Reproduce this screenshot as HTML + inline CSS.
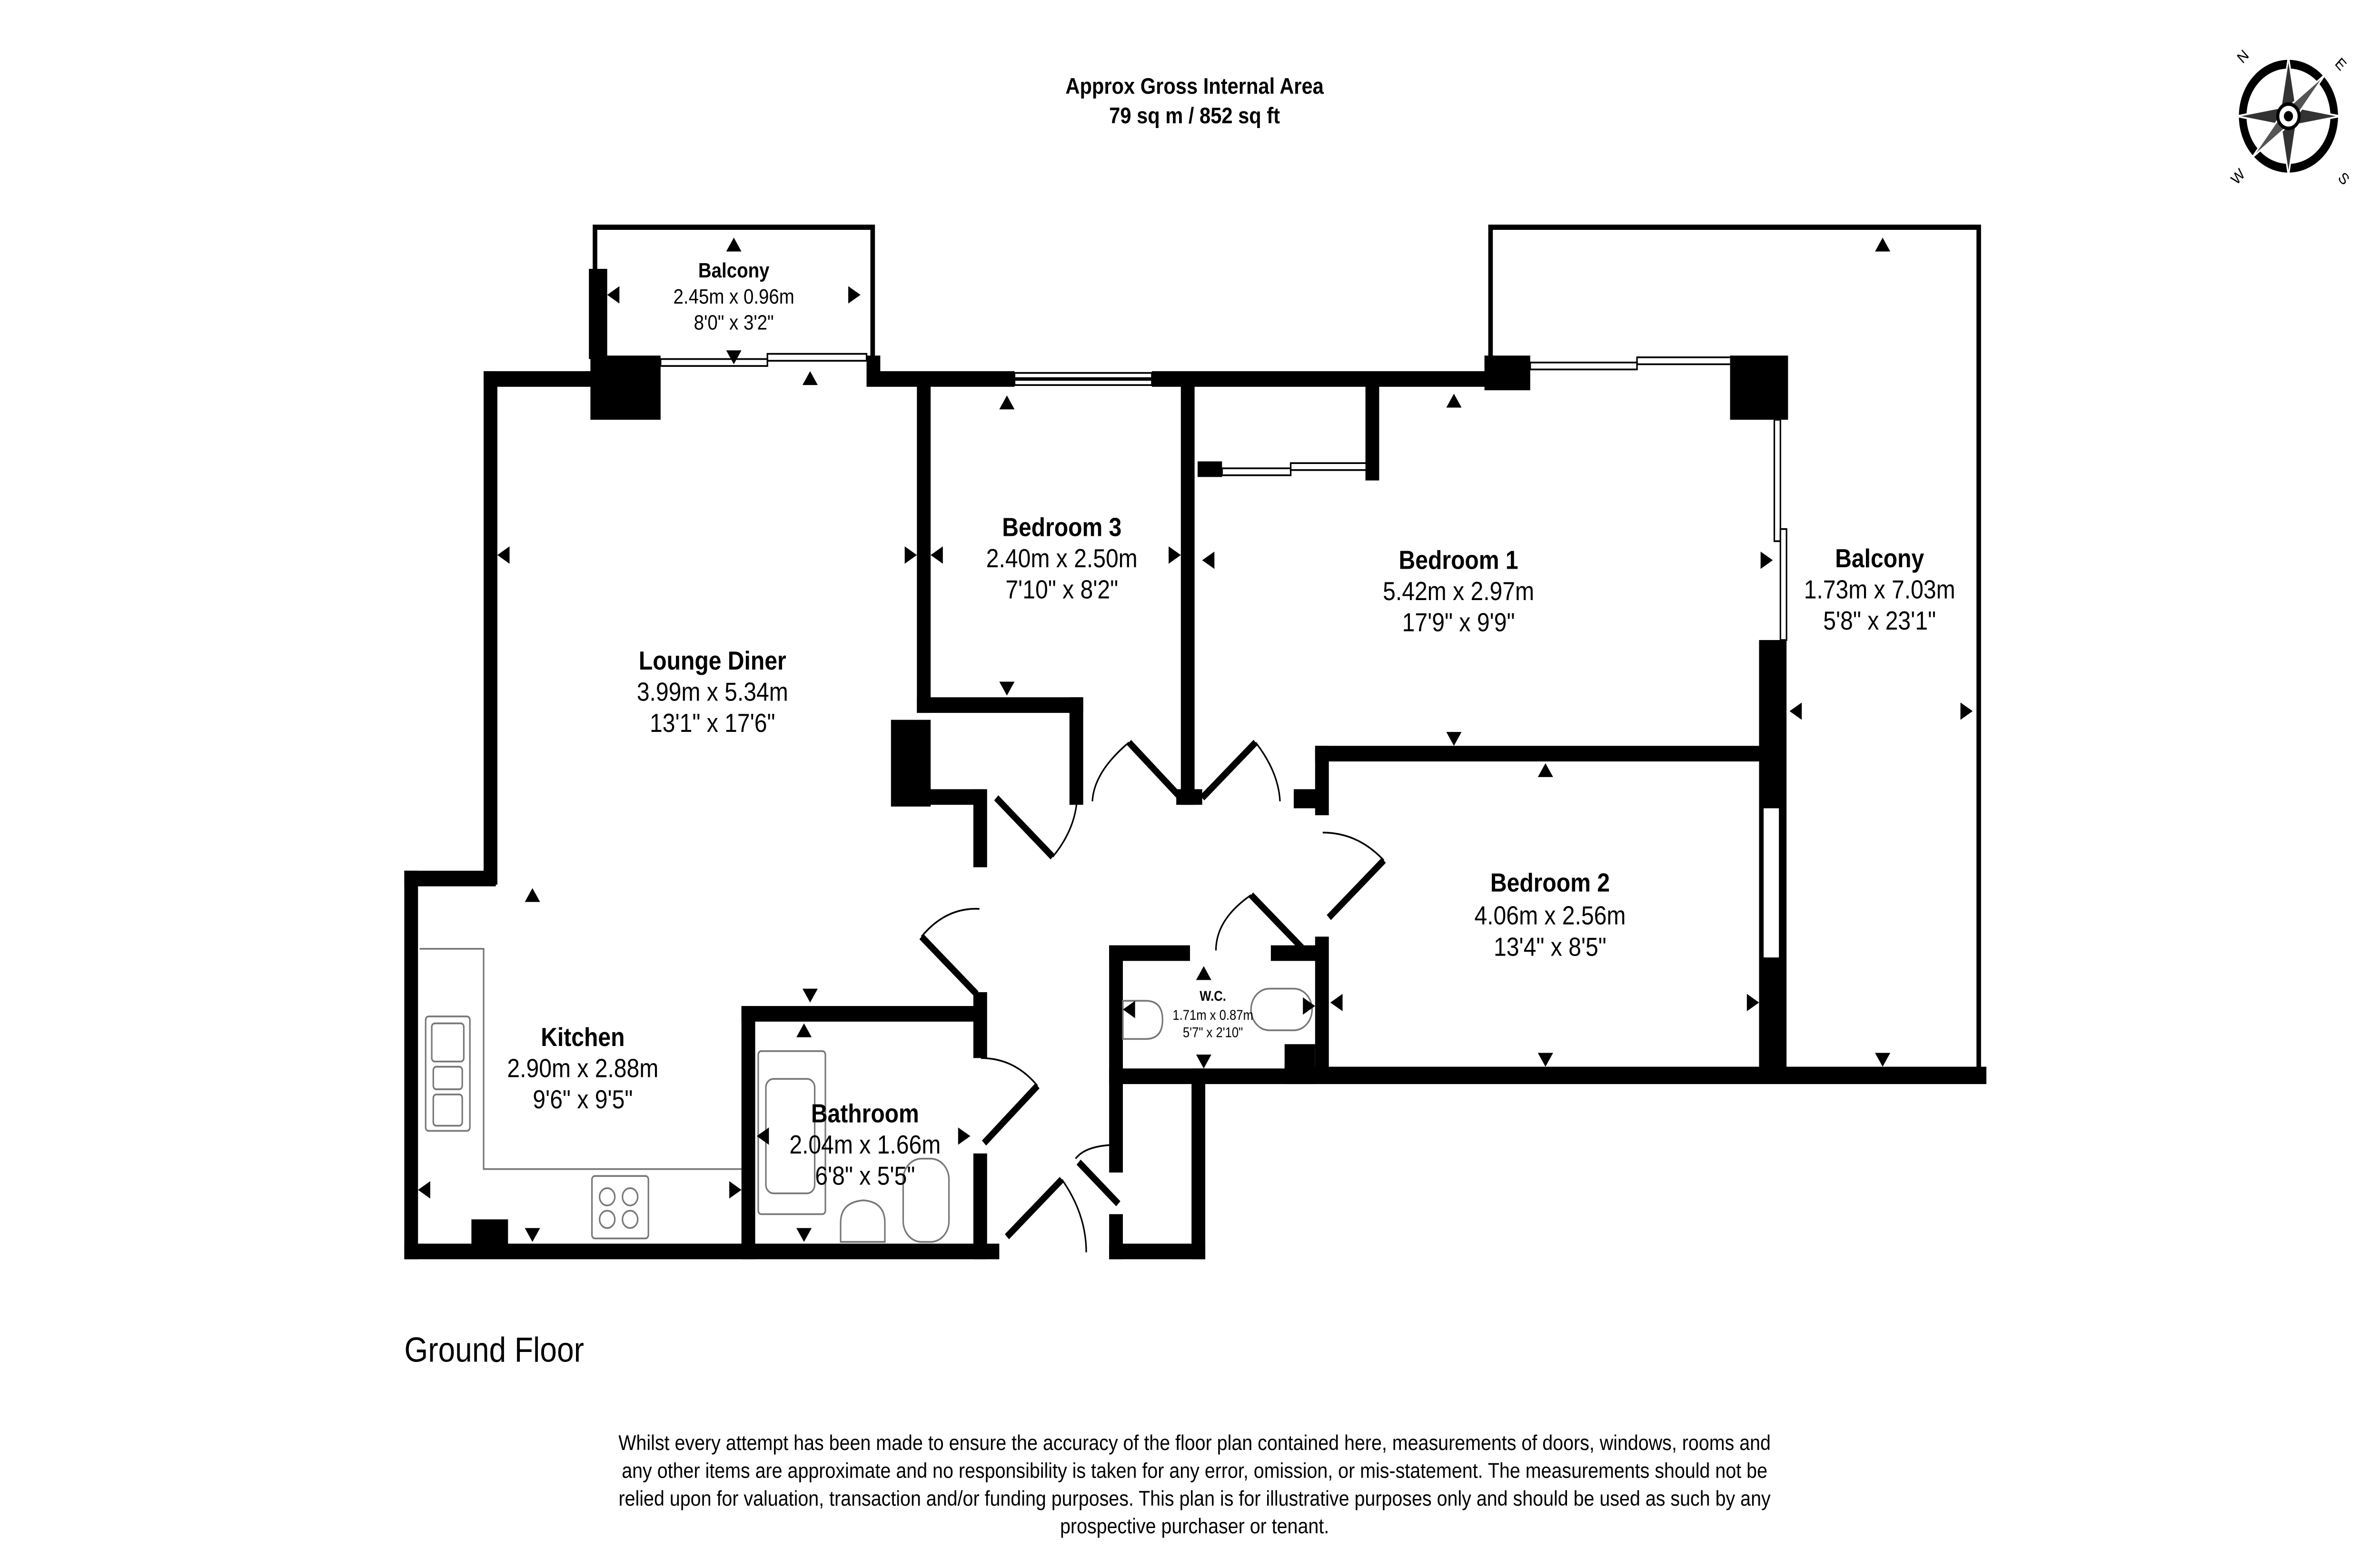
<!DOCTYPE html>
<html><head><meta charset="utf-8"><style>
html,body{margin:0;padding:0;background:#fff;overflow:hidden;width:100%;height:100%}
svg{display:block;position:fixed;left:0;top:0;width:100vw;height:100vh}
text{font-family:"Liberation Sans",sans-serif;fill:#000}
.n{font-family:"Liberation Sans Narrow","Liberation Sans",sans-serif}
</style></head><body>
<svg viewBox="0 0 1560 904" preserveAspectRatio="none" xmlns="http://www.w3.org/2000/svg">
<rect width="1560" height="904" fill="#fff"/>
<text x="783" y="54" font-size="13" font-weight="bold" text-anchor="middle">Approx Gross Internal Area</text>
<text x="783" y="71" font-size="13" font-weight="bold" text-anchor="middle">79 sq m / 852 sq ft</text>

<g transform="translate(1500,67)">
<circle r="30" fill="none" stroke="#000" stroke-width="5"/>
<polygon points="0,-34 5,-5 34,0 5,5 0,34 -5,5 -34,0 -5,-5" fill="#333" stroke="#fff" stroke-width="1"/>
<polygon points="-24,-24 3,-3 24,24 -3,3" fill="#555" stroke="#fff" stroke-width="1" transform="rotate(90)"/>
<circle r="7" fill="#fff" stroke="#000" stroke-width="2"/>
<circle r="3" fill="#000"/>
<text x="-30" y="-30" font-size="9" transform="rotate(-45 -30 -30)">N</text>
<text x="30" y="-30" font-size="9" transform="rotate(45 30 -30)">E</text>
<text x="-34" y="40" font-size="9" transform="rotate(-45 -34 40)">W</text>
<text x="32" y="36" font-size="9" transform="rotate(45 32 36)">S</text>
</g>

<g fill="none" stroke="#000" stroke-linecap="square">
<polyline points="390,205 390,131 572,131 572,205" stroke-width="3"/>
<polyline points="977,205 977,131 1297,131 1297,617" stroke-width="3"/>
</g>

<g fill="#000">
<rect x="317" y="214" width="9" height="296"/>
<rect x="317" y="214" width="72" height="9"/>
<rect x="387" y="205" width="46" height="37"/>
<rect x="386" y="155" width="12" height="52"/>
<rect x="265" y="502" width="60" height="9"/>
<rect x="265" y="502" width="9" height="224"/>
<rect x="265" y="717" width="390" height="9"/>
<rect x="309" y="703" width="24" height="16"/>
<rect x="568" y="205" width="9" height="17"/>
<rect x="568" y="214" width="97" height="9"/>
<rect x="755" y="214" width="222" height="9"/>
<rect x="973" y="205" width="30" height="20"/>
<rect x="1134" y="205" width="38" height="37"/>
<rect x="601" y="219" width="9" height="192"/>
<rect x="601" y="402" width="109" height="9"/>
<rect x="701" y="402" width="9" height="62"/>
<rect x="584" y="415" width="26" height="50"/>
<rect x="606" y="455" width="40" height="9"/>
<rect x="638" y="455" width="9" height="45"/>
<rect x="774" y="219" width="9" height="245"/>
<rect x="771" y="455" width="17" height="9"/>
<rect x="895" y="219" width="9" height="58"/>
<rect x="785" y="266" width="16" height="9"/>
<rect x="862" y="430" width="300" height="9"/>
<rect x="862" y="430" width="9" height="40"/>
<rect x="848" y="455" width="22" height="11"/>
<rect x="862" y="540" width="9" height="80"/>
<rect x="1153" y="369" width="18" height="252"/>
<rect x="1155" y="465" width="12" height="88" fill="#fff" stroke="#000" stroke-width="2"/>
<rect x="842" y="615" width="460" height="10"/>
<rect x="842" y="602" width="20" height="22"/>
<rect x="727" y="545" width="9" height="80"/>
<rect x="727" y="545" width="53" height="9"/>
<rect x="833" y="545" width="36" height="9"/>
<rect x="727" y="616" width="135" height="9"/>
<rect x="727" y="616" width="9" height="60"/>
<rect x="781" y="616" width="9" height="110"/>
<rect x="727" y="700" width="9" height="26"/>
<rect x="727" y="717" width="63" height="9"/>
<rect x="638" y="572" width="9" height="38"/>
<rect x="486" y="580" width="160" height="9"/>
<rect x="486" y="580" width="9" height="146"/>
<rect x="638" y="665" width="9" height="61"/>
</g>

<g fill="none" stroke="#000" stroke-width="1">
<rect x="433" y="207" width="70" height="4"/><rect x="503" y="204" width="65" height="4"/>
<rect x="665" y="215" width="90" height="3"/><rect x="665" y="219" width="90" height="3"/>
<rect x="1003" y="209" width="70" height="4"/><rect x="1073" y="206" width="62" height="4"/>
<rect x="1163" y="242" width="4" height="70"/><rect x="1167" y="305" width="4" height="64"/>
<rect x="801" y="270" width="45" height="4"/><rect x="846" y="267" width="50" height="4"/>
</g>

<g stroke="#000" fill="none">
<line x1="653" y1="460" x2="690" y2="494" stroke-width="4"/>
<path d="M690,494 Q705,478 706,460" stroke-width="1"/>
<line x1="774" y1="460" x2="740" y2="428" stroke-width="4"/>
<path d="M740,428 Q717,445 716,462" stroke-width="1"/>
<line x1="788" y1="460" x2="823" y2="428" stroke-width="4"/>
<path d="M823,428 Q838,445 839,462" stroke-width="1"/>
<line x1="907" y1="496" x2="871" y2="529" stroke-width="4"/>
<path d="M907,496 Q890,480 867,480" stroke-width="1"/>
<line x1="640" y1="573" x2="604" y2="540" stroke-width="4"/>
<path d="M604,540 Q620,523 642,524" stroke-width="1"/>
<line x1="680" y1="626" x2="645" y2="659" stroke-width="4"/>
<path d="M680,626 Q665,610 643,610" stroke-width="1"/>
<line x1="854" y1="547" x2="820" y2="516" stroke-width="4"/>
<path d="M820,516 Q797,530 797,548" stroke-width="1"/>
<line x1="696" y1="680" x2="660" y2="713" stroke-width="4"/>
<path d="M696,680 Q712,700 712,722" stroke-width="1"/>
<line x1="707" y1="670" x2="733" y2="694" stroke-width="4"/>
<path d="M705,668 Q712,660 733,660" stroke-width="1"/>
</g>

<g fill="none" stroke="#777" stroke-width="1">
<polyline points="275,547 317,547 317,674 486,674"/>
<rect x="279" y="586" width="29" height="66" rx="2"/>
<rect x="283" y="590" width="21" height="22" rx="2"/>
<rect x="284" y="615" width="19" height="13" rx="2"/>
<rect x="284" y="631" width="19" height="18" rx="2"/>
<rect x="388" y="678" width="37" height="36" rx="2"/>
<circle cx="398" cy="690" r="5"/><circle cx="413" cy="690" r="5"/>
<circle cx="398" cy="703" r="5"/><circle cx="413" cy="703" r="5"/>
<rect x="497" y="606" width="44" height="94" rx="2"/>
<rect x="502" y="622" width="32" height="66" rx="5"/>
<path d="M551,716 L551,705 Q551,693 566,692 Q580,693 580,705 L580,716 Z"/>
<rect x="592" y="668" width="30" height="48" rx="12"/>
<path d="M736,577 L751,577 Q762,577 762,588 Q762,599 751,599 L736,599 Z"/>
<rect x="820" y="570" width="40" height="24" rx="12"/>
</g>

<g fill="#000">
<path d="M481,137 l-5,8 h10z"/><path d="M481,210 l-5,-8 h10z"/>
<path d="M398,170 l8,-5 v10z"/><path d="M564,170 l-8,-5 v10z"/>
<path d="M531,214 l-5,8 h10z"/>
<path d="M326,320 l8,-5 v10z"/><path d="M601,320 l-8,-5 v10z"/>
<path d="M349,512 l-5,8 h10z"/>
<path d="M610,320 l8,-5 v10z"/><path d="M774,320 l-8,-5 v10z"/>
<path d="M660,228 l-5,8 h10z"/><path d="M660,401 l-5,-8 h10z"/>
<path d="M788,323 l8,-5 v10z"/><path d="M1162,323 l-8,-5 v10z"/>
<path d="M953,227 l-5,8 h10z"/><path d="M953,430 l-5,-8 h10z"/>
<path d="M1234,137 l-5,8 h10z"/><path d="M1234,615 l-5,-8 h10z"/>
<path d="M1173,410 l8,-5 v10z"/><path d="M1293,410 l-8,-5 v10z"/>
<path d="M1013,440 l-5,8 h10z"/><path d="M1013,615 l-5,-8 h10z"/>
<path d="M872,578 l8,-5 v10z"/><path d="M1153,578 l-8,-5 v10z"/>
<path d="M789,557 l-5,8 h10z"/><path d="M789,616 l-5,-8 h10z"/>
<path d="M736,582 l8,-5 v10z"/><path d="M862,580 l-8,-5 v10z"/>
<path d="M274,686 l8,-5 v10z"/><path d="M486,686 l-8,-5 v10z"/>
<path d="M349,716 l-5,-8 h10z"/><path d="M531,578 l-5,-8 h10z"/>
<path d="M527,590 l-5,8 h10z"/><path d="M527,716 l-5,-8 h10z"/>
<path d="M496,655 l8,-5 v10z"/><path d="M636,655 l-8,-5 v10z"/>
</g>

<g text-anchor="middle" class="n">
<text x="481" y="160" font-size="12" font-weight="bold">Balcony</text>
<text x="481" y="175" font-size="12">2.45m x 0.96m</text>
<text x="481" y="190" font-size="12">8'0" x 3'2"</text>
<text x="467" y="386" font-size="15" font-weight="bold">Lounge Diner</text>
<text x="467" y="404" font-size="15">3.99m x 5.34m</text>
<text x="467" y="422" font-size="15">13'1" x 17'6"</text>
<text x="696" y="309" font-size="15" font-weight="bold">Bedroom 3</text>
<text x="696" y="327" font-size="15">2.40m x 2.50m</text>
<text x="696" y="345" font-size="15">7'10" x 8'2"</text>
<text x="956" y="328" font-size="15" font-weight="bold">Bedroom 1</text>
<text x="956" y="346" font-size="15">5.42m x 2.97m</text>
<text x="956" y="364" font-size="15">17'9" x 9'9"</text>
<text x="1232" y="327" font-size="15" font-weight="bold">Balcony</text>
<text x="1232" y="345" font-size="15">1.73m x 7.03m</text>
<text x="1232" y="363" font-size="15">5'8" x 23'1"</text>
<text x="1016" y="514" font-size="15" font-weight="bold">Bedroom 2</text>
<text x="1016" y="533" font-size="15">4.06m x 2.56m</text>
<text x="1016" y="551" font-size="15">13'4" x 8'5"</text>
<text x="382" y="603" font-size="15" font-weight="bold">Kitchen</text>
<text x="382" y="621" font-size="15">2.90m x 2.88m</text>
<text x="382" y="639" font-size="15">9'6" x 9'5"</text>
<text x="567" y="647" font-size="15" font-weight="bold">Bathroom</text>
<text x="567" y="665" font-size="15">2.04m x 1.66m</text>
<text x="567" y="683" font-size="15">6'8" x 5'5"</text>
<text x="795" y="577" font-size="8" font-weight="bold">W.C.</text>
<text x="795" y="588" font-size="8">1.71m x 0.87m</text>
<text x="795" y="598" font-size="8">5'7" x 2'10"</text>
</g>

<text x="265" y="785" font-size="20">Ground Floor</text>
<g text-anchor="middle" font-size="12.3">
<text x="783" y="836">Whilst every attempt has been made to ensure the accuracy of the floor plan contained here, measurements of doors, windows, rooms and</text>
<text x="783" y="852">any other items are approximate and no responsibility is taken for any error, omission, or mis-statement. The measurements should not be</text>
<text x="783" y="868">relied upon for valuation, transaction and/or funding purposes. This plan is for illustrative purposes only and should be used as such by any</text>
<text x="783" y="884">prospective purchaser or tenant.</text>
</g>
</svg>
</body></html>
